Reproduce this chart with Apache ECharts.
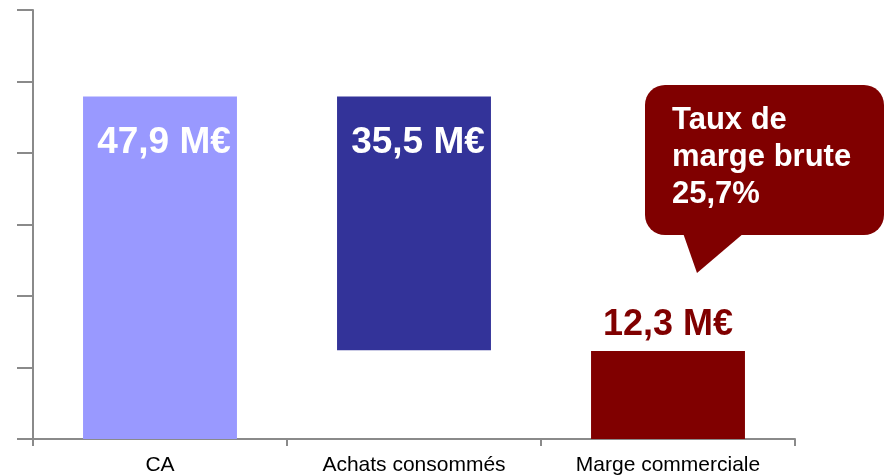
<!DOCTYPE html>
<html><head><meta charset="utf-8">
<script src="https://cdn.jsdelivr.net/npm/echarts@6/dist/echarts.min.js"></script>
<style>html,body{margin:0;padding:0;background:#fff}#c{width:887px;height:476px}</style>
</head><body><div id="c"></div>
<script>
const categories = ['CA', 'Achats consommés', 'Marge commerciale'];
const baseValues = [0, 12.4, 0];
const barValues = [47.9, 35.5, 12.3];
const barColors = ['#9999FF', '#333399', '#800000'];
const barLabels = ['47,9 M€', '35,5 M€', '12,3 M€'];
const calloutText = 'Taux de\nmarge brute\n25,7%';

const FONT = 'Arial, "Liberation Sans", sans-serif';
const axisColor = '#8a8a8a';
const chart = echarts.init(document.getElementById('c'));
chart.setOption({
  animation: false,
  grid: { left: 33, right: 92, top: 10, bottom: 37 },
  xAxis: {
    type: 'category', data: categories,
    axisLine: { lineStyle: { color: axisColor, width: 2 } },
    axisTick: { show: true, length: 7, lineStyle: { color: axisColor, width: 2 } },
    axisLabel: { color: '#000', fontFamily: FONT, fontSize: 21, margin: 16 }
  },
  yAxis: {
    type: 'value', min: 0, max: 60, interval: 10,
    axisLine: { show: true, lineStyle: { color: axisColor, width: 2 } },
    axisTick: { show: true, inside: false, length: 16, lineStyle: { color: axisColor, width: 2 } },
    axisLabel: { show: false },
    splitLine: { show: false }
  },
  series: [
    { type: 'bar', stack: 'w', data: baseValues, barWidth: '60.6%',
      itemStyle: { color: 'transparent' }, silent: true },
    { type: 'bar', stack: 'w',
      data: barValues.map((v, i) => ({
        value: v,
        itemStyle: { color: barColors[i] },
        label: i < 2 ? {
          show: true, position: 'insideTop', distance: 28, offset: [4, 0],
          formatter: barLabels[i], color: '#fff', fontFamily: FONT, fontWeight: 'bold', fontSize: 37
        } : {
          show: true, position: 'top', distance: 8,
          formatter: barLabels[i], color: '#800000', fontFamily: FONT, fontWeight: 'bold', fontSize: 36
        }
      }))
    }
  ],
  graphic: [
    { type: 'rect', shape: { x: 645, y: 85, width: 239, height: 150, r: 20 }, style: { fill: '#800000' } },
    { type: 'polygon', shape: { points: [[683, 233], [697, 273], [744, 233]] }, style: { fill: '#800000' } },
    { type: 'text', x: 672, y: 102, style: { text: calloutText, fill: '#fff', font: 'bold 31px ' + FONT, lineHeight: 37, verticalAlign: 'top' } }
  ]
});
</script></body></html>
